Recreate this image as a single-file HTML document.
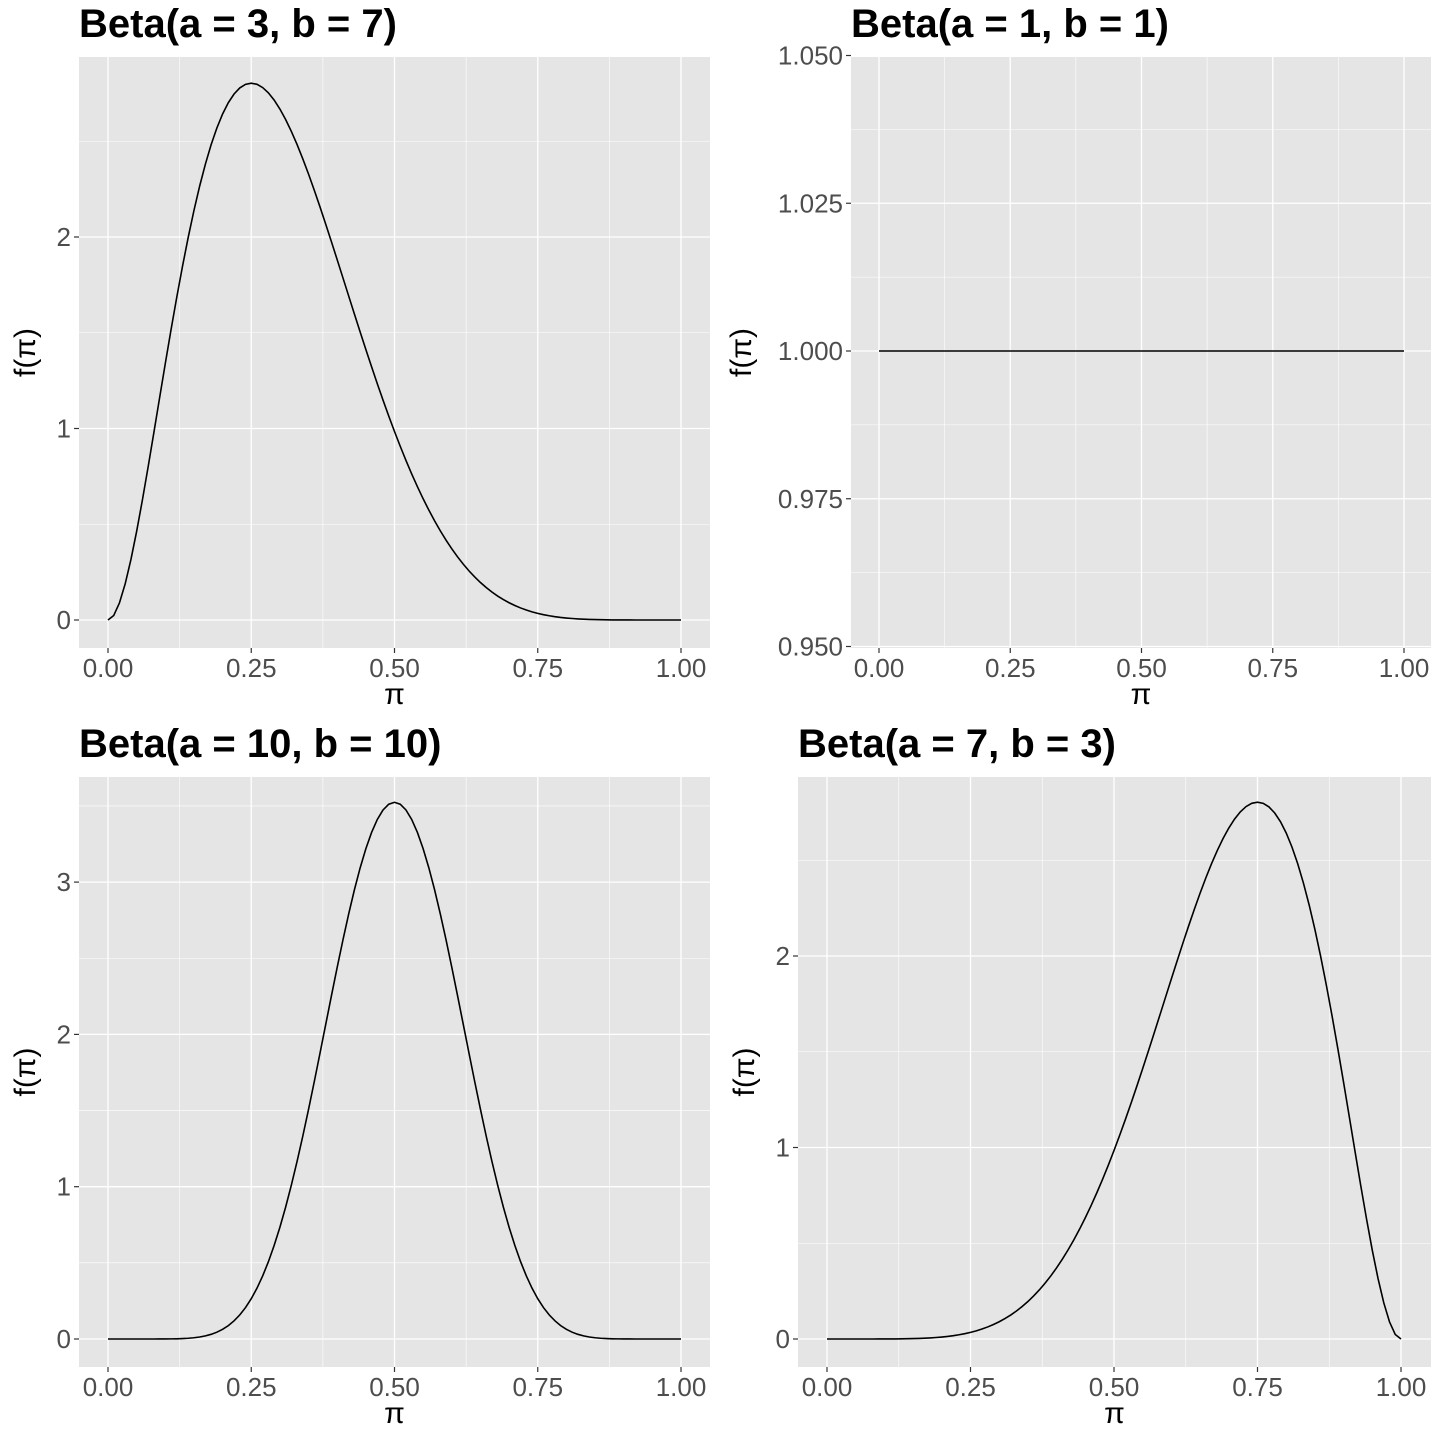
<!DOCTYPE html>
<html><head><meta charset="utf-8"><style>
html,body{margin:0;padding:0;background:#fff;}
svg{display:block;}
text{font-family:"Liberation Sans",Arial,sans-serif;}
</style></head><body>
<svg id="s" width="1440" height="1440" xmlns="http://www.w3.org/2000/svg"></svg>
<script>
const s=document.getElementById('s');
let h='';
function panel(o){
  const {L,R,T,B,x0,x1,ymap,yt,ylab,title,f,tx}=o;
  const X=v=>x0+(x1-x0)*v;
  h+=`<rect x="${L}" y="${T}" width="${R-L}" height="${B-T}" fill="#E5E5E5"/>`;
  [0.125,0.375,0.625,0.875].forEach(v=>h+=`<line x1="${X(v)}" x2="${X(v)}" y1="${T}" y2="${B}" stroke="#fff" stroke-width="0.6"/>`);
  for(let i=0;i<yt.length-1;i++){const m=(ymap(yt[i])+ymap(yt[i+1]))/2;h+=`<line x1="${L}" x2="${R}" y1="${m}" y2="${m}" stroke="#fff" stroke-width="0.6"/>`;}
  if(o.yminExtra) o.yminExtra.forEach(v=>{const y=ymap(v);if(y>T&&y<B)h+=`<line x1="${L}" x2="${R}" y1="${y}" y2="${y}" stroke="#fff" stroke-width="0.6"/>`;});
  [0,0.25,0.5,0.75,1].forEach(v=>{h+=`<line x1="${X(v)}" x2="${X(v)}" y1="${T}" y2="${B}" stroke="#fff" stroke-width="1.3"/>`;
    h+=`<line x1="${X(v)}" x2="${X(v)}" y1="${B}" y2="${B+5}" stroke="#333" stroke-width="1.2"/>`;
    h+=`<text x="${X(v)}" y="${B+29}" font-size="26" fill="#4D4D4D" text-anchor="middle">${v.toFixed(2)}</text>`;});
  yt.forEach((v,i)=>{const y=ymap(v);h+=`<line x1="${L}" x2="${R}" y1="${y}" y2="${y}" stroke="#fff" stroke-width="1.3"/>`;
    h+=`<line x1="${L-5}" x2="${L}" y1="${y}" y2="${y}" stroke="#333" stroke-width="1.2"/>`;
    h+=`<text x="${L-8}" y="${y+9}" font-size="26" fill="#4D4D4D" text-anchor="end">${ylab[i]}</text>`;});
  let p='';for(let i=0;i<=100;i++){const v=i/100;p+=(i?'L':'M')+X(v).toFixed(2)+','+ymap(f(v)).toFixed(2);}
  h+=`<path d="${p}" fill="none" stroke="#000" stroke-width="1.6"/>`;
  h+=`<text x="${L}" y="${T-20}" font-size="40" font-weight="bold" fill="#000">${title}</text>`;
  h+=`<text x="${(L+R)/2}" y="${B+56}" font-size="30" fill="#000" text-anchor="middle">π</text>`;
  h+=`<text transform="translate(${tx},${(T+B)/2}) rotate(-90)" font-size="30" fill="#000" text-anchor="middle">f(π)</text>`;
}
panel({L:79,R:710,T:57,B:648,x0:108,x1:681,ymap:v=>620-191.5*v,yt:[0,1,2],ylab:['0','1','2'],yminExtra:[2.5],
  title:'Beta(a = 3, b = 7)',f:x=>252*x*x*Math.pow(1-x,6),tx:35});
panel({L:851,R:1431,T:57,B:648,x0:879,x1:1404,ymap:v=>351-(v-1)*5910,yt:[0.95,0.975,1,1.025,1.05],ylab:['0.950','0.975','1.000','1.025','1.050'],
  title:'Beta(a = 1, b = 1)',f:x=>1,tx:751});
panel({L:79,R:710,T:777,B:1367,x0:108,x1:681,ymap:v=>1339-152.3*v,yt:[0,1,2,3],ylab:['0','1','2','3'],yminExtra:[3.5],
  title:'Beta(a = 10, b = 10)',f:x=>923780*Math.pow(x,9)*Math.pow(1-x,9),tx:35});
panel({L:798,R:1431,T:777,B:1367,x0:827,x1:1401,ymap:v=>1339-191.5*v,yt:[0,1,2],ylab:['0','1','2'],yminExtra:[2.5],
  title:'Beta(a = 7, b = 3)',f:x=>252*Math.pow(x,6)*Math.pow(1-x,2),tx:754});
s.innerHTML=h;
</script>
</body></html>
